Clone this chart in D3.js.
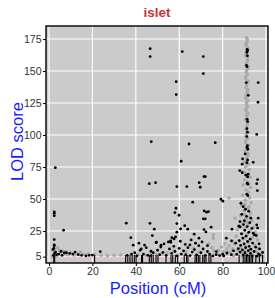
<!DOCTYPE html>
<html>
<head>
<meta charset="utf-8">
<title>islet</title>
<script src="https://d3js.org/d3.v7.min.js"></script>
<style>
body { margin: 0; background: #fff; }
text { font-family: "Liberation Sans", Arial, sans-serif; }
</style>
</head>
<body>
<svg width="275" height="298"></svg>
<script>
// ---- data (position cM, LOD) ----
var xTicks = [0, 20, 40, 60, 80, 100];
var yTicks = [5, 25, 50, 75, 100, 125, 150, 175];
var threshold = 5;

// marker positions along the bottom (rug)
var rugPos = [2.2, 2.6, 21, 35.3, 36.3, 37.3, 38.3, 39.3, 40.1, 42.6, 43.1, 46.2, 47.1, 48, 49.3,
  50.2, 53.9, 56.2, 57, 58.2, 59.3, 62.3, 63.4, 64, 67.3, 68, 68.8, 69.5, 70.8, 71.5, 72.3,
  73.7, 74.6, 87.6, 89.5, 90.3, 91, 91.7, 92.4, 93.1, 93.8, 95.3, 96.9, 98.4];

// light grey points (non-significant / other)
var greyPts = [
  [91.0,176],[91.4,174.5],[91.4,173],[90.8,171.5],[90.8,170],[91.6,168],[91.1,166.5],[91.1,165],
  [90.7,163.5],[90.7,162],[91.5,160.5],[91.5,159],[91.2,157],
  [90.9,155],[91.7,153.5],[91.7,152],[91.0,150.5],[91.0,149],[91.3,147],[90.6,145.5],[90.6,144],
  [91.8,142],[91.1,140.5],[91.1,139],[90.8,137],
  [91.5,135.5],[91.5,134],[91.2,132],[90.7,130.5],[90.7,129],[91.6,127],[91.0,125.5],[91.0,124],
  [91.4,122],[90.8,120.5],[90.8,119],[91.7,117],
  [91.1,115.5],[91.1,114],[90.6,112],[91.5,110.5],[91.5,109],[91.2,107],[90.9,105.5],[90.9,104],
  [91.8,102],[91.0,100.5],[91.0,99],[91.4,97],
  [90.6,95.5],[90.6,94],[91.9,92],[91.2,90.5],[91.2,89],[90.5,87],[91.7,85.5],[91.7,84],[91.0,82],
  [90.2,79],[91.8,77],[90.6,75],[92.3,73],[89.8,71],[91.2,69],[92.6,67],[90.1,65],[91.5,63],
  [89.5,61],[92.8,59],[90.8,57],[91.9,55],[89.2,53],[92.4,51],[90.5,49],[93.2,47],[88.8,45],
  [91.6,43],[89.9,41],[92.9,39],[88.3,37],[90.9,35],[93.6,33],[89.4,31],[91.8,30],
  [91.1,78],[90.4,70],[92.0,62],[91.0,54],[90.2,46],[92.2,44],[90.0,38],[92.4,36],[91.0,32],
  [87.5,29],[94.2,28],[90.3,27],[86.8,26],[92.6,25],[95.0,24],[88.9,23],[91.2,22],[86.2,21],
  [93.9,20],[89.7,19],[96.0,18],[87.8,17],[92.0,16],[85.5,15],[94.8,14],[90.6,13],[88.2,12],
  [96.5,11.5],[84.6,11],[92.9,10.5],[86.9,10],[90.0,9.5],[95.5,9],[83.5,8.5],[88.6,8],
  [93.4,7.5],[81.8,7.2],[86.3,6.8],[97.5,6.5],[91.4,6.2],[80.2,6],[84.9,5.6],[94.0,5.4],
  [89.0,5.2],[98.5,5],
  [78,10],[79.5,12.5],[80.5,9],[82,11],[83,13.5],[81,15],[77.5,7],[76,9.5],[84.5,17],
  [82.9,50.8],[85.7,35],[75.7,22],[75.7,19.4],[75,12],[73.5,15],[69,8.5],[66.5,11.5],[63,9],
  [60.5,7],[57.5,10],[54.5,8],[52,7],[49.5,6.5],[47,7.5],[44.5,6],[41,6.8],
  [1.5,5],[3.5,5.5],[4.8,10],[6.2,9.5],[7.5,9],[8.5,6.5],[10,8],[11.5,6.2],[13,7.3],[14.5,8.6],
  [16,6.8],[18,7.2],[21,6.5],[24,6],[27,5.8],[30,6],[33,6.2],[2.5,9.3],[4,12]
];

// black points
var blackPts = [
  [46.6,167.5],[46.6,161.3],[47.1,94.8],[61.4,165.2],[71.1,161.3],[71.1,148],[58.6,141.7],
  [58.6,131.6],[96.4,141],[96.3,125.6],[95.7,100.5],[64.5,93],[76.6,94],
  [91.3,167],[91.5,166],[91.2,164.7],[91.4,162],[91.0,154.5],[91.2,153.4],[90.9,141],[91.8,131],
  [91.3,112.3],[91.5,110.5],[91.2,105],[91.4,102.2],[91.1,98.8],[91.4,91.7],[91.2,90.5],
  [91.6,88.9],[90.4,85.2],[91.5,80.5],[91.2,78.4],[89.0,77.2],[87.9,72.2],[89.0,70.6],
  [91.8,69.4],[91.5,67.3],[91.3,62.3],[91.6,61.6],[91.2,53.7],[91.6,52.7],[88.4,46.7],
  [94.1,78.7],[96.1,65.2],[95.7,62],[96.0,56.6],[89.2,81.3],[90.7,68.6],
  [2.9,74.5],[2.4,39.9],[2.4,38.9],[2.4,37],[6.7,25.6],[2.4,18.3],[2.4,14.1],[2.4,13.4],
  [23.6,8.9],[35.6,31.1],[37.7,19.8],[38.8,13.9],[41.4,15.5],[46.2,62],[49.1,62.8],[46.5,31],
  [48.5,26.4],[47.6,21.4],[49.3,15.9],[47,9.2],[49.5,16.2],[51.6,13.9],[56.1,16.2],[57.6,18.8],
  [60.9,79.5],[71.4,67.5],[72.0,67.5],[58.9,59.7],[63.5,59.7],[69.2,62.8],[69.7,59.2],
  [79.2,49.8],[80.1,48.3],[66.2,47.5],[58.5,42.8],[58.0,39.4],[59.9,37.3],[71.5,40.7],
  [72.6,39.7],[73.5,40.2],[71.1,34.5],[72.0,34.5],[58.9,30.8],[62.5,29.2],[60.6,26.6],
  [63.9,26.4],[74.7,28],[71.4,26.1],[72.3,24.3],[58.9,24.1],[58.3,20.4],[66.9,22.5],[69.1,19.4],
  [84.3,26.4],[88.1,28.2],[87.5,28.7],[81.7,19.4],[84.1,17.3],[78.6,5.8],[77.1,8.9],[56.6,19.8],
  [56.0,17.3],[64.9,14.1],[96.4,35],[95.7,29.8],[96.1,27.4],[94.1,23.3],[95.5,21.5],
  [89.5,44],[90.5,42],[92,40.5],[88.8,38],[91,36.5],[93,35],[90,33],[92.5,31.5],[88,32.4],
  [89.6,30],[91.3,28.5],[93.5,27],[90.2,25.5],[92,24],[88.7,22.8],[94.6,22],[90.8,21],
  [89.3,19.5],[92.7,18.6],[87.6,17.5],[91.5,16.8],[93.8,15.6],[89.9,14.9],[88.3,13.8],[92.2,13],
  [95.2,12.4],[90.6,12],[87.2,11.3],[93,10.8],[89.1,10.2],[91.8,9.6],[94.5,9],[88,8.5],
  [90.3,8],[92.8,7.5],[96.5,7.2],[86.5,6.8],[89.5,6.4],[91.2,6],[93.6,5.6],[95.8,5.3],
  [97.2,6.1],[98.4,8.2],[97,11],[96.8,15],[86,15.5],[85,9.5],[84,6.5],[82,7.8],[80.5,5.5],
  [2,6],[2.5,7.5],[3,8.5],[3.5,6.5],[4.5,7],[5.5,9],[6,6],[7,7.8],[8,8],[9.5,7.5],[11,7],
  [12,8.5],[13.5,6.5],[15,6],[17,5.5],[18.5,6],[20,6.2],[1.8,10.5],[2.2,11.5],
  [36,6],[38,7],[39.5,8],[40.5,5.5],[42,10],[43.5,7],[44.8,12],[45.5,6],[47,5.8],[48,8],
  [50,10],[51,6.5],[52.5,8.3],[54,6],[55.5,11],[56.5,7.5],[57.5,13],[58,9],[59,5.5],[60,11.5],
  [61,7],[62,9.5],[63,6.5],[64,12],[65,5.8],[66,8.5],[67,10.5],[68,6.3],[69,13.5],[70,8],
  [71,11],[72,6],[73,9],[74,7],[75.5,5.5],[77,6.5],[80,7],
  [42.5,11],[44,14],[51.5,12.5],[53,15],[55,16.5],[60.5,17],[62.8,14.5],[65.5,18],[67.5,15.5],
  [70.5,16.5],[73,13.5]
];

var svg = d3.select("svg"),
    panel = {left: 46, right: 268, top: 26, bottom: 263};

var x = d3.scaleLinear().domain([-1.4, 100.9]).range([panel.left, panel.right]);
var y = d3.scaleLinear().domain([0, 185.2]).range([panel.bottom, panel.top]);

// panel background
svg.append("rect")
    .attr("x", panel.left).attr("y", panel.top)
    .attr("width", panel.right - panel.left)
    .attr("height", panel.bottom - panel.top)
    .attr("fill", "#cbcbcb");

// grid lines
svg.append("g").selectAll("line").data(xTicks).enter().append("line")
    .attr("x1", d => x(d)).attr("x2", d => x(d))
    .attr("y1", panel.top).attr("y2", panel.bottom)
    .attr("stroke", "#fff").attr("stroke-width", 1.1);
svg.append("g").selectAll("line").data(yTicks).enter().append("line")
    .attr("x1", panel.left).attr("x2", panel.right)
    .attr("y1", d => y(d)).attr("y2", d => y(d))
    .attr("stroke", "#fff").attr("stroke-width", 1.1);

// threshold line
svg.append("line")
    .attr("x1", panel.left).attr("x2", panel.right)
    .attr("y1", y(threshold) + 0.5).attr("y2", y(threshold) + 0.5)
    .attr("stroke", "#f2b8c6").attr("stroke-width", 1);

// grey points
svg.append("g").selectAll("circle").data(greyPts).enter().append("circle")
    .attr("cx", d => x(d[0])).attr("cy", d => y(d[1]))
    .attr("r", 1.8).attr("fill", "#a9a9a9");

// rug
svg.append("g").selectAll("line").data(rugPos).enter().append("line")
    .attr("x1", d => x(d)).attr("x2", d => x(d))
    .attr("y1", panel.bottom).attr("y2", panel.bottom - 8)
    .attr("stroke", "#000").attr("stroke-width", 1.1);

// black points
svg.append("g").selectAll("circle").data(blackPts).enter().append("circle")
    .attr("cx", d => x(d[0])).attr("cy", d => y(d[1]))
    .attr("r", 1.4).attr("fill", "#000");

// panel border
svg.append("rect")
    .attr("x", panel.left).attr("y", panel.top)
    .attr("width", panel.right - panel.left)
    .attr("height", panel.bottom - panel.top)
    .attr("fill", "none").attr("stroke", "#000").attr("stroke-width", 1.4);

// axes
var xAxis = svg.append("g")
    .attr("transform", "translate(0," + panel.bottom + ")")
    .call(d3.axisBottom(x).tickValues(xTicks).tickSize(3).tickPadding(2));
var yAxis = svg.append("g")
    .attr("transform", "translate(" + panel.left + ",0)")
    .call(d3.axisLeft(y).tickValues(yTicks).tickSize(3).tickPadding(1.5));
[xAxis, yAxis].forEach(function(a) {
  a.select(".domain").remove();
  a.selectAll("line").attr("stroke", "#000");
  a.selectAll("text").attr("fill", "#333").style("font-size", "10.5px")
    .style("font-family", "'Liberation Sans', Arial, sans-serif");
});

// title and labels
svg.append("text")
    .attr("x", (panel.left + panel.right) / 2).attr("y", 17)
    .attr("text-anchor", "middle")
    .attr("fill", "#c43535")
    .style("font-size", "13.5px").style("font-weight", "bold")
    .text("islet");

svg.append("text")
    .attr("x", 158).attr("y", 293.5)
    .attr("text-anchor", "middle")
    .attr("fill", "#1a1aff")
    .style("font-size", "16.5px")
    .text("Position (cM)");

svg.append("text")
    .attr("transform", "translate(22.5,141.5) rotate(-90)")
    .attr("text-anchor", "middle")
    .attr("fill", "#1a1aff")
    .style("font-size", "16.5px")
    .text("LOD score");
</script>
</body>
</html>
